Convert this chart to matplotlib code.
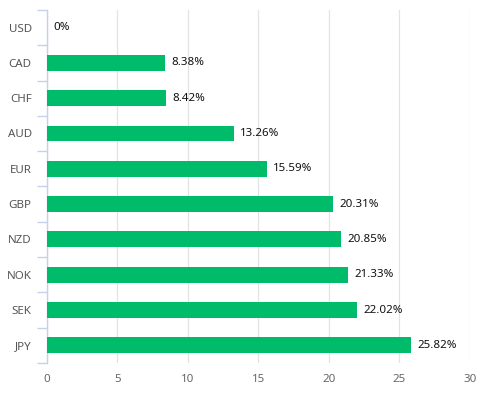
import matplotlib
matplotlib.use('Agg')
import matplotlib.pyplot as plt
import numpy as np

plt.rcParams['font.family'] = ['Noto Sans', 'DejaVu Sans']

currencies = ['USD', 'CAD', 'CHF', 'AUD', 'EUR', 'GBP', 'NZD', 'NOK', 'SEK', 'JPY']
values = [0, 8.38, 8.42, 13.26, 15.59, 20.31, 20.85, 21.33, 22.02, 25.82]
value_labels = ['0%', '8.38%', '8.42%', '13.26%', '15.59%', '20.31%', '20.85%', '21.33%', '22.02%', '25.82%']

BAR_COLOR = '#00bb6a'
AXIS_COLOR = '#c3d2ea'
GRID_COLOR = '#e3e3e3'

fig = plt.figure(figsize=(4.79, 3.95), dpi=100)
ax = fig.add_axes([0.098, 0.081, 0.883, 0.894])

y = np.arange(len(currencies))
ax.barh(y, values, height=0.45, color=BAR_COLOR, zorder=3)

for yi, v, lab in zip(y, values, value_labels):
    ax.text(v + 0.45, yi, lab, va='center', ha='left', fontsize=8.3,
            color='#111111', zorder=4)

ax.set_xlim(0, 30)
ax.set_ylim(len(currencies) - 0.5, -0.5)
ax.set_xticks(np.arange(0, 31, 5))
ax.xaxis.grid(True, color=GRID_COLOR, linewidth=0.9, zorder=0)

ax.set_yticks(y)
ax.set_yticklabels(currencies)
ax.set_yticks(np.arange(-0.5, len(currencies), 1), minor=True)
ax.tick_params(axis='y', which='major', length=0, pad=11, labelsize=8.3, labelcolor='#555555')
ax.tick_params(axis='y', which='minor', length=7, color=AXIS_COLOR, width=1)
ax.tick_params(axis='x', length=0, pad=8, labelsize=8.3, labelcolor='#666666')

for s in ['top', 'right', 'bottom']:
    ax.spines[s].set_visible(False)
ax.spines['left'].set_color(AXIS_COLOR)
ax.spines['left'].set_linewidth(1)

fig.savefig('out.png', dpi=100)
